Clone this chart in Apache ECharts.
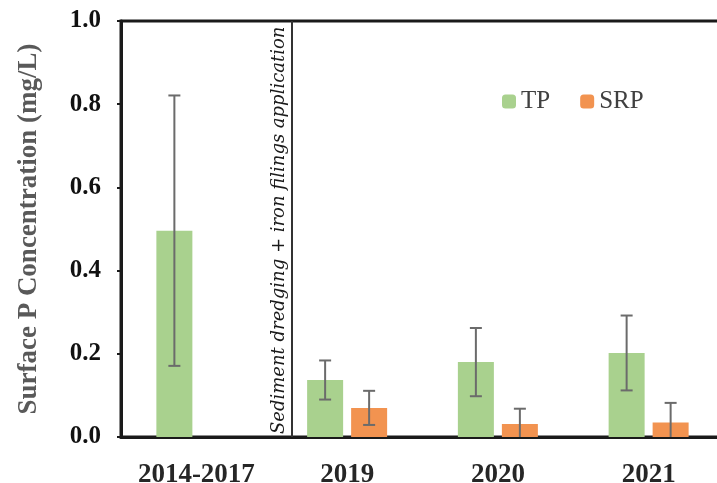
<!DOCTYPE html>
<html>
<head>
<meta charset="utf-8">
<script src="https://cdn.jsdelivr.net/npm/echarts@6/dist/echarts.min.js"></script>
<style>
  html, body { margin: 0; padding: 0; background: #ffffff; }
  #chart { width: 717px; height: 483px; }
</style>
</head>
<body>
<div id="chart"></div>
<script>
// Surface phosphorus concentrations before and after treatment
const categories = ['2014-2017', '2019', '2020', '2021'];
const tpMean = [0.496, 0.137, 0.180, 0.202];
const tpSd = [0.325, 0.047, 0.082, 0.090];
const srpMean = [null, 0.070, 0.031, 0.035];
const srpSd = [null, 0.041, 0.037, 0.047];
const yTicks = [0, 0.2, 0.4, 0.6, 0.8, 1.0];
const treatmentAt = 0.634; // position of the treatment marker on the category scale
const treatmentText = 'Sediment dredging + iron filings application';

const BAR_W = 36;
const BAR_GAP = 8;
const SERIF = '"Liberation Serif", "Times New Roman", serif';

function errorData(mean, sd) {
  const out = [];
  mean.forEach(function (m, i) {
    if (m != null && sd[i] != null) out.push([i, m, sd[i]]);
  });
  return out;
}

function errorRenderer(shift) {
  return function (params, api) {
    const i = api.value(0), m = api.value(1), e = api.value(2);
    const hi = api.coord([i, m + e]);
    const lo = api.coord([i, m - e]);
    const x = hi[0] + shift;
    const cap = 6;
    const style = { stroke: '#6b6b6b', lineWidth: 2 };
    return {
      type: 'group',
      children: [
        { type: 'line', shape: { x1: x, y1: hi[1], x2: x, y2: lo[1] }, style: style },
        { type: 'line', shape: { x1: x - cap, y1: hi[1], x2: x + cap, y2: hi[1] }, style: style },
        { type: 'line', shape: { x1: x - cap, y1: lo[1], x2: x + cap, y2: lo[1] }, style: style }
      ]
    };
  };
}

const shift = (BAR_W + BAR_GAP) / 2;
const chart = echarts.init(document.getElementById('chart'), null, { renderer: 'canvas' });

chart.setOption({
  animation: false,
  backgroundColor: '#ffffff',
  grid: {
    left: 121, right: -7, top: 21, bottom: 46,
    outerBoundsMode: 'none',
    containLabel: false,
    show: true, borderColor: '#1a1a1a', borderWidth: 3
  },
  legend: {
    left: 502, top: 89, padding: 0,
    itemWidth: 14, itemHeight: 14, itemGap: 30,
    data: ['TP', 'SRP'],
    textStyle: { fontFamily: SERIF, fontSize: 25, color: '#404040' }
  },
  xAxis: [
    {
      type: 'category',
      data: categories,
      axisLine: { lineStyle: { color: '#1a1a1a', width: 3 } },
      axisTick: { show: false },
      axisLabel: {
        interval: 0,
        margin: 25,
        fontFamily: SERIF, fontWeight: 'bold', fontSize: 27, color: '#262626'
      }
    },
    { type: 'value', min: -0.5, max: 3.5, show: false }
  ],
  yAxis: {
    type: 'value',
    min: yTicks[0], max: yTicks[yTicks.length - 1], interval: 0.2,
    name: 'Surface P Concentration (mg/L)',
    nameLocation: 'middle',
    nameGap: 78,
    nameTextStyle: { fontFamily: SERIF, fontWeight: 'bold', fontSize: 27, color: '#595959' },
    axisLine: { show: true, onZero: false, lineStyle: { color: '#1a1a1a', width: 3 } },
    axisTick: { show: true, length: 4, lineStyle: { color: '#1a1a1a', width: 2 } },
    splitLine: { show: false },
    axisLabel: {
      margin: 20,
      fontFamily: SERIF, fontWeight: 'bold', fontSize: 25, color: '#111111',
      formatter: function (v) { return v.toFixed(1); }
    }
  },
  series: [
    {
      name: 'TP', type: 'bar', data: tpMean,
      barWidth: BAR_W, barGap: (BAR_GAP / BAR_W * 100) + '%',
      itemStyle: { color: '#a9d18e' }
    },
    {
      name: 'SRP', type: 'bar', data: srpMean,
      barWidth: BAR_W,
      itemStyle: { color: '#f29350' }
    },
    {
      type: 'custom', data: errorData(tpMean, tpSd),
      renderItem: errorRenderer(-shift), clip: true, z: 5, silent: true
    },
    {
      type: 'custom', data: errorData(srpMean, srpSd),
      renderItem: errorRenderer(shift), clip: true, z: 5, silent: true
    },
    {
      type: 'scatter', xAxisIndex: 1, data: [[treatmentAt, 0]], symbolSize: 0, silent: true,
      markLine: {
        silent: true, symbol: 'none',
        lineStyle: { color: '#333333', width: 2, type: 'solid' },
        label: {
          show: true, position: 'insideStartTop', distance: 3,
          formatter: treatmentText,
          fontFamily: '"DejaVu Serif", serif', fontStyle: 'italic', fontSize: 18,
          color: '#1a1a1a'
        },
        data: [{ xAxis: treatmentAt }]
      }
    }
  ]
});
</script>
</body>
</html>
